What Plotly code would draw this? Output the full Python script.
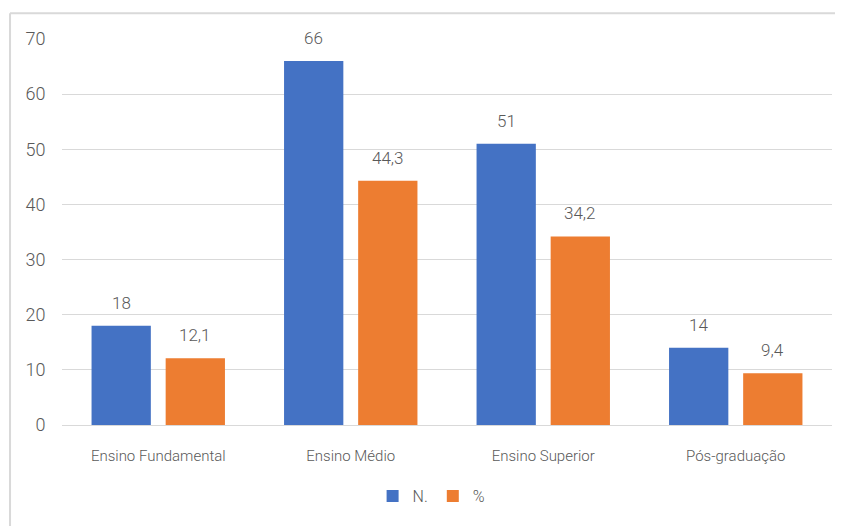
import plotly.graph_objects as go

categories = ["Ensino Fundamental", "Ensino Médio", "Ensino Superior", "Pós-graduação"]
n_values = [18, 66, 51, 14]
pct_values = [12.1, 44.3, 34.2, 9.4]
y_ticks = [0, 10, 20, 30, 40, 50, 60, 70]

FONT = "Roboto, Liberation Sans, sans-serif"
GRAY = "#595959"
BLUE = "#4472C4"
ORANGE = "#ED7D31"
BORDER = "#d9d9d9"


def fmt(v):
    return str(v).replace(".", ",")


fig = go.Figure()
fig.add_trace(go.Bar(name="N.", x=categories, y=n_values, marker=dict(color=BLUE, line=dict(width=0))))
fig.add_trace(go.Bar(name="%", x=categories, y=pct_values, marker=dict(color=ORANGE, line=dict(width=0))))

annotations = []
for c, v in zip(categories, n_values):
    annotations.append(dict(x=c, y=v, text=fmt(v), xref="x", yref="y", showarrow=False,
                            xshift=-37, yshift=23, yanchor="middle",
                            font=dict(family=FONT, size=17, color=GRAY, weight=300)))
for c, v in zip(categories, pct_values):
    annotations.append(dict(x=c, y=v, text=fmt(v), xref="x", yref="y", showarrow=False,
                            xshift=37, yshift=23, yanchor="middle",
                            font=dict(family=FONT, size=17, color=GRAY, weight=300)))

fig.update_layout(
    width=835, height=518,
    margin=dict(l=54, r=11, t=31, b=101, autoexpand=False),
    paper_bgcolor="white", plot_bgcolor="white",
    barmode="group", bargap=0.23, bargroupgap=0.2,
    font=dict(family=FONT, color=GRAY, size=16),
    showlegend=True,
    legend=dict(orientation="h", x=0.48, xanchor="center", xref="paper",
                y=-0.184, yanchor="middle", font=dict(family=FONT, size=16, color=GRAY, weight=300),
                itemwidth=30, traceorder="normal"),
    annotations=annotations,
    shapes=[
        dict(type="line", xref="paper", yref="paper", x0=-0.0675, x1=1.02, y0=1.067, y1=1.067,
             line=dict(color=BORDER, width=2)),
        dict(type="line", xref="paper", yref="paper", x0=-0.0675, x1=-0.0675, y0=1.067, y1=-0.27,
             line=dict(color=BORDER, width=2)),
    ],
)
fig.update_xaxes(showgrid=False, showline=True, linecolor=BORDER, linewidth=1,
                 ticks="outside", ticklen=17, tickcolor="rgba(0,0,0,0)",
                 tickfont=dict(family=FONT, size=15, color=GRAY, weight=300))
fig.update_yaxes(range=[0, 70], tickvals=y_ticks, showgrid=True, gridcolor=BORDER, gridwidth=1,
                 zeroline=False, showline=False,
                 ticks="outside", ticklen=12, tickcolor="rgba(0,0,0,0)",
                 tickfont=dict(family=FONT, size=18, color=GRAY, weight=300))

fig.write_html("out.html")
